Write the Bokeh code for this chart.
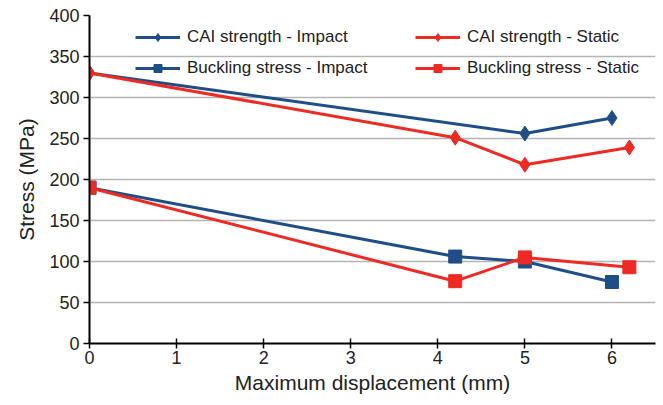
from bokeh.plotting import figure
from bokeh.models import Legend, LegendItem, FixedTicker, Range1d
from bokeh.embed import file_html
from bokeh.resources import INLINE

cai_impact_x = [0, 5, 6]
cai_impact_y = [330, 256, 275]
cai_static_x = [0, 4.2, 5, 6.2]
cai_static_y = [330, 251, 218, 239]
buck_impact_x = [0, 4.2, 5, 6]
buck_impact_y = [190, 106, 100, 75]
buck_static_x = [0, 4.2, 5, 6.2]
buck_static_y = [190, 76, 105, 93]
x_ticks = [0, 1, 2, 3, 4, 5, 6]
y_ticks = [0, 50, 100, 150, 200, 250, 300, 350, 400]

BLUE = "#1F4E86"
RED = "#EE2A24"
FONT = "Liberation Sans"

p = figure(output_backend="svg", toolbar_location=None,
           x_range=Range1d(0, 6.5), y_range=Range1d(0, 400))
p.frame_width = 566
p.frame_height = 328
p.min_border_left = 89
p.min_border_right = 4
p.min_border_top = 15
p.min_border_bottom = 55
p.outline_line_color = None
p.background_fill_color = "white"

p.xgrid.grid_line_color = None
p.ygrid.grid_line_color = "#b4b4b4"
p.ygrid.grid_line_width = 1.5

p.xaxis.ticker = FixedTicker(ticks=x_ticks)
p.yaxis.ticker = FixedTicker(ticks=y_ticks)
p.xaxis.minor_tick_line_color = None
p.yaxis.minor_tick_line_color = None
for ax in (p.xaxis[0], p.yaxis[0]):
    ax.axis_line_color = "black"
    ax.axis_line_width = 2
    ax.major_tick_line_color = "black"
    ax.major_tick_line_width = 1.5
    ax.major_label_text_font = FONT
    ax.major_label_text_font_size = "18px"
    ax.major_label_text_color = "#222222"
    ax.axis_label_text_font = FONT
    ax.axis_label_text_font_size = "21px"
    ax.axis_label_text_font_style = "normal"
    ax.axis_label_text_color = "#222222"
p.xaxis.major_tick_in = 5
p.xaxis.major_tick_out = 5
p.yaxis.major_tick_in = 0
p.yaxis.major_tick_out = 6
p.xaxis.major_label_standoff = 2
p.yaxis.major_label_standoff = 4
p.xaxis.axis_label = "Maximum displacement (mm)"
p.yaxis.axis_label = "Stress (MPa)"
p.xaxis.axis_label_standoff = 4
p.yaxis.axis_label_standoff = 8

l1 = p.line(cai_impact_x, cai_impact_y, color=BLUE, line_width=3)
s1 = p.scatter(cai_impact_x, cai_impact_y, marker="diamond", size=15, color=BLUE)
l3 = p.line(buck_impact_x, buck_impact_y, color=BLUE, line_width=3)
s3 = p.scatter(buck_impact_x, buck_impact_y, marker="square", size=13, color=BLUE)
l2 = p.line(cai_static_x, cai_static_y, color=RED, line_width=3)
s2 = p.scatter(cai_static_x, cai_static_y, marker="diamond", size=15, color=RED)
l4 = p.line(buck_static_x, buck_static_y, color=RED, line_width=3)
s4 = p.scatter(buck_static_x, buck_static_y, marker="square", size=13, color=RED)

def make_legend(items, loc):
    lg = Legend(items=items, location=loc)
    lg.glyph_width = 45
    lg.glyph_height = 20
    lg.label_height = 20
    lg.spacing = 11
    lg.padding = 0
    lg.margin = 0
    lg.border_line_color = None
    lg.background_fill_alpha = 0
    lg.label_standoff = 7
    lg.label_text_font = FONT
    lg.label_text_font_size = "17px"
    lg.label_text_color = "#222222"
    return lg

leg1 = make_legend([LegendItem(label="CAI strength - Impact", renderers=[l1, s1]),
                    LegendItem(label="Buckling stress - Impact", renderers=[l3, s3])], (46, 265))
leg2 = make_legend([LegendItem(label="CAI strength - Static", renderers=[l2, s2]),
                    LegendItem(label="Buckling stress - Static", renderers=[l4, s4])], (326, 265))
p.add_layout(leg1, "center")
p.add_layout(leg2, "center")

open("out.html", "w").write(file_html(p, INLINE))
